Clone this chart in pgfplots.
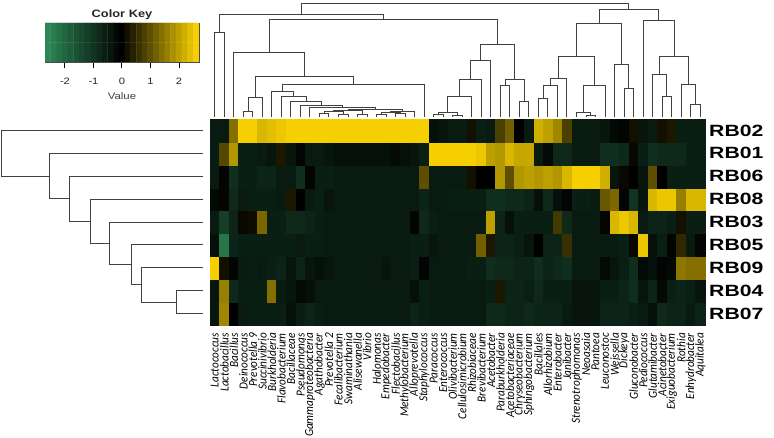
\documentclass[border=0pt]{standalone}
\usepackage{pgfplots}
\pgfplotsset{compat=1.18}
\usepackage{pgfplotstable}
\usepackage{fontspec}
\setmainfont{Liberation Sans}
\newfontfamily\colfont{Carlito}
\newfontfamily\rowfont[FakeStretch=1.3]{Liberation Sans}
\newfontfamily\keyfont[FakeStretch=1.2]{Liberation Sans}
\definecolor{dendro}{RGB}{65,65,65}
\pgfplotsset{
  colormap={gk}{rgb255=(46,139,87) rgb255=(0,0,0) rgb255=(255,215,0)},
  dline/.style={no markers, line width=1pt, color=dendro, forget plot},
}
% heatmap values, row by row from the bottom row up
% (RB07, RB04, RB09, RB05, RB03, RB08, RB06, RB01, RB02), 52 columns each
\pgfplotstableread[row sep=\\]{
v\\
-0.4\\ 1.7\\ 0.0\\ -0.5\\   -0.6\\ -0.6\\ -0.6\\ -0.6\\   -0.3\\ -0.6\\ -0.7\\ -0.6\\   -0.5\\ -0.5\\ -0.5\\ -0.5\\   -0.5\\ -0.5\\ -0.5\\ -0.5\\   -0.5\\ -0.7\\ -0.6\\ -0.5\\   -0.5\\ -0.5\\ -0.5\\ -0.5\\   -0.5\\ -0.8\\ -0.8\\ -0.7\\   -0.7\\ -0.8\\ -0.7\\ -0.7\\   -0.7\\ -0.5\\ -0.4\\ -0.4\\   -0.4\\ -0.7\\ -0.7\\ -0.7\\   -0.6\\ -0.5\\ -0.3\\ -0.8\\   -0.7\\ -0.7\\ -0.5\\ -0.7\\
-0.4\\ 1.6\\ -0.8\\ -0.6\\   -0.6\\ -0.6\\ 1.4\\ -0.5\\   -0.4\\ -0.2\\ -0.3\\ -0.5\\   -0.5\\ -0.5\\ -0.5\\ -0.5\\   -0.5\\ -0.5\\ -0.5\\ -0.5\\   -0.5\\ -0.3\\ -0.6\\ -0.5\\   -0.5\\ -0.5\\ -0.5\\ -0.5\\   -0.5\\ -0.6\\ 0.3\\ -0.7\\   -0.7\\ -0.6\\ -0.8\\ -0.6\\   -0.6\\ -0.6\\ -0.4\\ -0.4\\   -0.4\\ -0.6\\ -0.6\\ -0.7\\   -0.9\\ -0.4\\ -0.7\\ -0.2\\   -0.6\\ -0.7\\ -0.6\\ -0.4\\
2.6\\ 0.2\\ -0.1\\ -0.5\\   -0.6\\ -0.5\\ -0.6\\ -0.7\\   -0.4\\ -0.7\\ -0.4\\ -0.3\\   -0.4\\ -0.5\\ -0.5\\ -0.5\\   -0.5\\ -0.5\\ -0.4\\ -0.5\\   -0.5\\ -0.6\\ -0.1\\ -0.5\\   -0.5\\ -0.5\\ -0.5\\ -0.6\\   -0.6\\ -0.9\\ -0.8\\ -0.8\\   -0.7\\ -0.7\\ -0.9\\ -0.7\\   -0.8\\ -0.9\\ -0.5\\ -0.5\\   -0.5\\ -0.2\\ -0.4\\ -0.6\\   -0.9\\ -0.2\\ -0.3\\ -0.1\\   -0.2\\ 1.5\\ 1.4\\ 1.4\\
-0.3\\ -2.3\\ -0.7\\ -0.6\\   -0.6\\ -0.6\\ -0.6\\ -0.6\\   -0.6\\ -0.5\\ -0.6\\ -0.6\\   -0.5\\ -0.5\\ -0.5\\ -0.5\\   -0.5\\ -0.5\\ -0.5\\ -0.5\\   -0.5\\ -0.6\\ -0.6\\ -0.4\\   -0.5\\ -0.5\\ -0.5\\ -0.5\\   1.2\\ 0.3\\ -0.7\\ -0.7\\   -0.6\\ -0.4\\ 0.0\\ -0.7\\   -0.7\\ 0.6\\ -0.5\\ -0.5\\   -0.5\\ -0.5\\ -0.5\\ -0.6\\   0.1\\ 2.5\\ -0.3\\ -0.6\\   -0.1\\ 0.5\\ -0.5\\ -0.1\\
-0.5\\ -1.2\\ -0.7\\ 0.1\\   0.15\\ 1.3\\ -0.6\\ -0.6\\   -0.8\\ -0.8\\ -0.7\\ -0.6\\   -0.5\\ -0.5\\ -0.5\\ -0.5\\   -0.5\\ -0.5\\ -0.5\\ -0.5\\   -0.5\\ -0.1\\ -0.8\\ -0.6\\   -0.5\\ -0.5\\ -0.5\\ -0.5\\   -0.5\\ 2.0\\ -0.7\\ -0.3\\   -0.6\\ -0.6\\ -0.6\\ -0.6\\   0.7\\ -0.8\\ -0.5\\ -0.5\\   -0.5\\ -0.1\\ 2.3\\ 2.5\\   2.3\\ -0.5\\ -0.7\\ -0.7\\   -0.6\\ 0.2\\ -0.6\\ -0.6\\
-0.2\\ 0.05\\ -0.8\\ -0.5\\   -0.6\\ -0.6\\ -0.6\\ -0.5\\   0.3\\ 0.0\\ -0.5\\ -0.6\\   -0.4\\ -0.5\\ -0.5\\ -0.5\\   -0.5\\ -0.5\\ -0.5\\ -0.5\\   -0.5\\ -0.5\\ -0.7\\ -0.5\\   -0.5\\ -0.6\\ -0.6\\ -0.6\\   -0.6\\ -0.9\\ -0.9\\ -0.8\\   -0.8\\ -0.7\\ -0.3\\ -0.8\\   -0.3\\ -0.1\\ -0.6\\ -0.6\\   -0.5\\ 1.1\\ 1.3\\ -0.1\\   -1.0\\ -0.4\\ 2.3\\ 2.5\\   2.5\\ 1.6\\ 2.3\\ 2.3\\
-0.5\\ -0.1\\ -0.9\\ -0.6\\   -0.6\\ -0.7\\ -0.7\\ -0.5\\   -0.5\\ -0.9\\ -0.1\\ -0.6\\   -0.6\\ -0.5\\ -0.5\\ -0.5\\   -0.5\\ -0.5\\ -0.5\\ -0.5\\   -0.5\\ -0.5\\ 1.0\\ -0.5\\   -0.5\\ -0.5\\ -0.5\\ 0.2\\   0.0\\ 0.0\\ 1.9\\ 1.0\\   1.9\\ 2.0\\ 1.9\\ 2.0\\   1.9\\ 2.3\\ 2.6\\ 2.6\\   2.6\\ 2.2\\ -0.4\\ 0.1\\   0.0\\ -0.4\\ 1.0\\ 0.0\\   -0.6\\ -0.6\\ -0.6\\ -0.6\\
-0.55\\ 0.9\\ 1.9\\ -0.6\\   -0.6\\ -0.5\\ -0.4\\ 0.3\\   -0.4\\ -0.1\\ -0.5\\ -0.5\\   -0.4\\ -0.3\\ -0.3\\ -0.3\\   -0.3\\ -0.3\\ -0.3\\ -0.2\\   -0.3\\ -0.4\\ -0.6\\ 2.6\\   2.6\\ 2.6\\ 2.6\\ 2.6\\   2.5\\ 2.0\\ 1.9\\ 2.3\\   2.1\\ 2.1\\ -0.5\\ -0.2\\   -0.8\\ -0.8\\ -0.5\\ -0.5\\   -0.5\\ -0.9\\ -0.9\\ -0.8\\   0.1\\ -0.6\\ -0.9\\ -0.8\\   -0.8\\ -0.8\\ -0.6\\ -0.6\\
-0.5\\ -0.5\\ 1.4\\ 2.6\\   2.6\\ 2.3\\ 2.4\\ 2.5\\   2.6\\ 2.6\\ 2.6\\ 2.6\\   2.6\\ 2.6\\ 2.6\\ 2.6\\   2.6\\ 2.6\\ 2.6\\ 2.6\\   2.6\\ 2.6\\ 2.6\\ -0.3\\   -0.4\\ -0.5\\ -0.5\\ 0.2\\   -0.6\\ -0.5\\ 0.8\\ 1.2\\   0.0\\ -0.5\\ 2.2\\ 2.0\\   1.7\\ 0.8\\ -0.5\\ -0.5\\   -0.5\\ -0.4\\ -0.2\\ -0.1\\   0.2\\ -0.4\\ -0.5\\ 0.2\\   0.3\\ -0.6\\ -0.6\\ -0.6\\
}\hm
% row and column position of each cell, from its index in the list (integer arithmetic)
\pgfplotstablecreatecol[create col/expr={int((\pgfplotstablerow+0.5)/52)}]{cy}{\hm}
\pgfplotstablecreatecol[create col/expr={\pgfplotstablerow-52*int((\pgfplotstablerow+0.5)/52)}]{cx}{\hm}

\begin{document}
\begin{tikzpicture}
\path[use as bounding box] (0pt,0pt) rectangle (774pt,-438pt);

% ---------- colour key ----------
\begin{axis}[at={(45pt,-62pt)}, anchor=south west, scale only axis,
  width=154pt, height=39pt, xmin=-2.7, xmax=2.7, ymin=-0.5, ymax=1.5,
  colormap name=gk, point meta min=-2.7, point meta max=2.7,
  ytick=\empty, xtick={-2,-1,0,1,2}, xticklabels={-2,-1,0,1,2},
  xtick pos=bottom, tick align=outside, major tick length=6pt,
  every tick/.style={draw=black, line width=1pt},
  axis line style={draw=black!70, line width=0.5pt},
  x tick label style={font=\keyfont\fontsize{9.3}{9.3}\selectfont, text=black!85, yshift=-6.5pt},
  xlabel={Value},
  xlabel style={font=\keyfont\fontsize{9.5}{9.5}\selectfont, text=black!75, at={(0.5,0)}, anchor=base, yshift=-37.5pt},
  title={Color Key},
  title style={font=\keyfont\bfseries\fontsize{10.7}{10.7}\selectfont, text=black!85, at={(0.5,1)}, anchor=base, yshift=-0.8pt}]
\addplot[matrix plot*, mesh/cols=27, point meta=explicit] coordinates {
(-2.6,0)[-2.6] (-2.4,0)[-2.4] (-2.2,0)[-2.2] (-2.0,0)[-2.0] (-1.8,0)[-1.8] (-1.6,0)[-1.6] (-1.4,0)[-1.4] (-1.2,0)[-1.2] (-1.0,0)[-1.0] (-0.8,0)[-0.8] (-0.6,0)[-0.6] (-0.4,0)[-0.4] (-0.2,0)[-0.2] (0,0)[0] (0.2,0)[0.2] (0.4,0)[0.4] (0.6,0)[0.6] (0.8,0)[0.8] (1.0,0)[1.0] (1.2,0)[1.2] (1.4,0)[1.4] (1.6,0)[1.6] (1.8,0)[1.8] (2.0,0)[2.0] (2.2,0)[2.2] (2.4,0)[2.4] (2.6,0)[2.6]
(-2.6,1)[-2.6] (-2.4,1)[-2.4] (-2.2,1)[-2.2] (-2.0,1)[-2.0] (-1.8,1)[-1.8] (-1.6,1)[-1.6] (-1.4,1)[-1.4] (-1.2,1)[-1.2] (-1.0,1)[-1.0] (-0.8,1)[-0.8] (-0.6,1)[-0.6] (-0.4,1)[-0.4] (-0.2,1)[-0.2] (0,1)[0] (0.2,1)[0.2] (0.4,1)[0.4] (0.6,1)[0.6] (0.8,1)[0.8] (1.0,1)[1.0] (1.2,1)[1.2] (1.4,1)[1.4] (1.6,1)[1.6] (1.8,1)[1.8] (2.0,1)[2.0] (2.2,1)[2.2] (2.4,1)[2.4] (2.6,1)[2.6]
};
\end{axis}

% ---------- heatmap ----------
\begin{axis}[at={(210pt,-325pt)}, anchor=south west, scale only axis,
  width=495pt, height=206pt, xmin=-0.5, xmax=51.5, ymin=-0.5, ymax=8.5,
  colormap name=gk, point meta min=-2.7, point meta max=2.7,
  axis line style={draw=none}, major tick length=0pt,
  xtick={0,...,51},
  xticklabels={Lactococcus,Lactobacillus,Bacillus,Deinococcus,Prevotella 9,Succinivibrio,Burkholderia,Flavobacterium,Bacillaceae,Pseudomonas,Gammaproteobacteria,Agathobacter,Prevotella 2,Fecalibacterium,Swaminathania,Alisewanella,Vibrio,Halomonas,Empedobacter,Flectobacillus,Methylobacterium,Alloprevotella,Staphylococcus,Paracoccus,Enterococcus,Olivibacterium,Cellulosimicrobium,Rhizobiaceae,Brevibacterium,Acetobacter,Paraburkholderia,Acetobacteriaceae,Chryseobacterium,Sphingobacterium,Bacillales,Allorhizobium,Enterobacter,Janibacter,Strenotrophomonas,Neoasaia,Pantoea,Leuconostoc,Weissella,Dickeya,Gluconobacter,Pediococcus,Glutamibacter,Acinetobacter,Exiguobacterium,Rothia,Enhydrobacter,Aquitalea},
  ytick={0,...,8},
  yticklabels={RB07,RB04,RB09,RB05,RB03,RB08,RB06,RB01,RB02},
  yticklabel pos=right,
  x tick label style={rotate=90, anchor=east, yscale=1.1, inner sep=1pt, xshift=-7pt,
     font=\colfont\itshape\fontsize{11.2}{11.2}\selectfont},
  y tick label style={anchor=west, inner sep=1pt, xshift=3pt,
     font=\rowfont\bfseries\fontsize{16.3}{16.3}\selectfont}]
\addplot[scatter, only marks, mark=square*, mark size=4.76pt,
  point meta=explicit, mark options={yscale=2.404, line width=0.3pt},
  scatter/use mapped color={draw=mapped color, fill=mapped color}]
  table[x=cx, y=cy, meta=v] {\hm};
\end{axis}

% ---------- column dendrogram ----------
\begin{axis}[at={(210pt,-119pt)}, anchor=south west, scale only axis,
  width=495pt, height=115pt, xmin=-0.5, xmax=51.5, ymin=4, ymax=119,
  y dir=reverse, hide axis, clip=false]
\addplot[dline] coordinates {(0,117)(0,32.3)(1,32.3)(1,117)};
\addplot[dline] coordinates {(3,117)(3,111.7)(4,111.7)(4,117)};
\addplot[dline] coordinates {(3.5,111.7)(3.5,97.3)(5,97.3)(5,117)};
\addplot[dline] coordinates {(11,117)(11,114)(12,114)(12,117)};
\addplot[dline] coordinates {(13,117)(13,115)(14,115)(14,117)};
\addplot[dline] coordinates {(11.5,114)(11.5,112)(13.5,112)(13.5,115)};
\addplot[dline] coordinates {(15,117)(15,114.5)(16,114.5)(16,117)};
\addplot[dline] coordinates {(12.5,112)(12.5,111)(15.5,111)(15.5,114.5)};
\addplot[dline] coordinates {(17,117)(17,115)(18,115)(18,117)};
\addplot[dline] coordinates {(19,117)(19,114)(20,114)(20,117)};
\addplot[dline] coordinates {(17.5,115)(17.5,112.5)(19.5,112.5)(19.5,114)};
\addplot[dline] coordinates {(18.5,112.5)(18.5,111.5)(21,111.5)(21,117)};
\addplot[dline] coordinates {(14,111)(14,109.5)(19.75,109.5)(19.75,111.5)};
\addplot[dline] coordinates {(10,117)(10,107.5)(16.875,107.5)(16.875,109.5)};
\addplot[dline] coordinates {(9,117)(9,106)(13.4375,106)(13.4375,107.5)};
\addplot[dline] coordinates {(8,117)(8,102)(11.21875,102)(11.21875,106)};
\addplot[dline] coordinates {(7,117)(7,96.7)(9.609375,96.7)(9.609375,102)};
\addplot[dline] coordinates {(6,117)(6,91.7)(8.3046875,91.7)(8.3046875,96.7)};
\addplot[dline] coordinates {(7.15234375,91.7)(7.15234375,84.3)(22,84.3)(22,117)};
\addplot[dline] coordinates {(4.25,97.3)(4.25,76.3)(14.576171875,76.3)(14.576171875,84.3)};
\addplot[dline] coordinates {(2,117)(2,52.3)(9.4130859,52.3)(9.4130859,76.3)};
\addplot[dline] coordinates {(23,117)(23,115)(24,115)(24,117)};
\addplot[dline] coordinates {(25,117)(25,115.5)(26,115.5)(26,117)};
\addplot[dline] coordinates {(23.5,115)(23.5,113)(25.5,113)(25.5,115.5)};
\addplot[dline] coordinates {(24.5,113)(24.5,97)(27,97)(27,117)};
\addplot[dline] coordinates {(25.75,97)(25.75,80)(28,80)(28,117)};
\addplot[dline] coordinates {(26.875,80)(26.875,60.3)(29,60.3)(29,117)};
\addplot[dline] coordinates {(30,117)(30,86)(31,86)(31,117)};
\addplot[dline] coordinates {(32,117)(32,101.7)(33,101.7)(33,117)};
\addplot[dline] coordinates {(30.5,86)(30.5,79.3)(32.5,79.3)(32.5,101.7)};
\addplot[dline] coordinates {(27.9375,60.3)(27.9375,45)(31.5,45)(31.5,79.3)};
\addplot[dline] coordinates {(5.70654,52.3)(5.70654,19.5)(29.71875,19.5)(29.71875,45)};
\addplot[dline] coordinates {(0.5,32.3)(0.5,15)(17.712646,15)(17.712646,19.5)};
\addplot[dline] coordinates {(34,117)(34,98.3)(35,98.3)(35,117)};
\addplot[dline] coordinates {(34.5,98.3)(34.5,86)(36,86)(36,117)};
\addplot[dline] coordinates {(35.25,86)(35.25,78.3)(37,78.3)(37,117)};
\addplot[dline] coordinates {(39,117)(39,115.5)(40,115.5)(40,117)};
\addplot[dline] coordinates {(38,117)(38,112.7)(39.5,112.7)(39.5,115.5)};
\addplot[dline] coordinates {(38.75,112.7)(38.75,85.3)(41,85.3)(41,117)};
\addplot[dline] coordinates {(36.125,78.3)(36.125,56.7)(39.875,56.7)(39.875,85.3)};
\addplot[dline] coordinates {(43,117)(43,88.3)(44,88.3)(44,117)};
\addplot[dline] coordinates {(42,117)(42,65)(43.5,65)(43.5,88.3)};
\addplot[dline] coordinates {(38,56.7)(38,23.3)(42.75,23.3)(42.75,65)};
\addplot[dline] coordinates {(47,117)(47,96.7)(48,96.7)(48,117)};
\addplot[dline] coordinates {(46,117)(46,75)(47.5,75)(47.5,96.7)};
\addplot[dline] coordinates {(50,117)(50,105)(51,105)(51,117)};
\addplot[dline] coordinates {(49,117)(49,85)(50.5,85)(50.5,105)};
\addplot[dline] coordinates {(46.75,75)(46.75,56.7)(49.75,56.7)(49.75,85)};
\addplot[dline] coordinates {(45,117)(45,20.7)(48.25,20.7)(48.25,56.7)};
\addplot[dline] coordinates {(40.375,23.3)(40.375,10)(46.625,10)(46.625,20.7)};
\addplot[dline] coordinates {(9.106323,15)(9.106323,4)(43.5,4)(43.5,10)};
\end{axis}

% ---------- row dendrogram ----------
\begin{axis}[at={(2pt,-325pt)}, anchor=south west, scale only axis,
  width=201pt, height=206pt, xmin=2, xmax=203, ymin=-0.5, ymax=8.5,
  hide axis, clip=false]
\addplot[dline] coordinates {(203,1)(176,1)(176,0)(203,0)};
\addplot[dline] coordinates {(203,2)(141.3,2)(141.3,0.5)(176,0.5)};
\addplot[dline] coordinates {(203,3)(131.7,3)(131.7,1.25)(141.3,1.25)};
\addplot[dline] coordinates {(203,4)(109.3,4)(109.3,2.125)(131.7,2.125)};
\addplot[dline] coordinates {(203,5)(90.7,5)(90.7,3.0625)(109.3,3.0625)};
\addplot[dline] coordinates {(203,6)(69.3,6)(69.3,4.03125)(90.7,4.03125)};
\addplot[dline] coordinates {(203,7)(50,7)(50,5.015625)(69.3,5.015625)};
\addplot[dline] coordinates {(203,8)(2,8)(2,6.0078125)(50,6.0078125)};
\end{axis}
\end{tikzpicture}
\end{document}
